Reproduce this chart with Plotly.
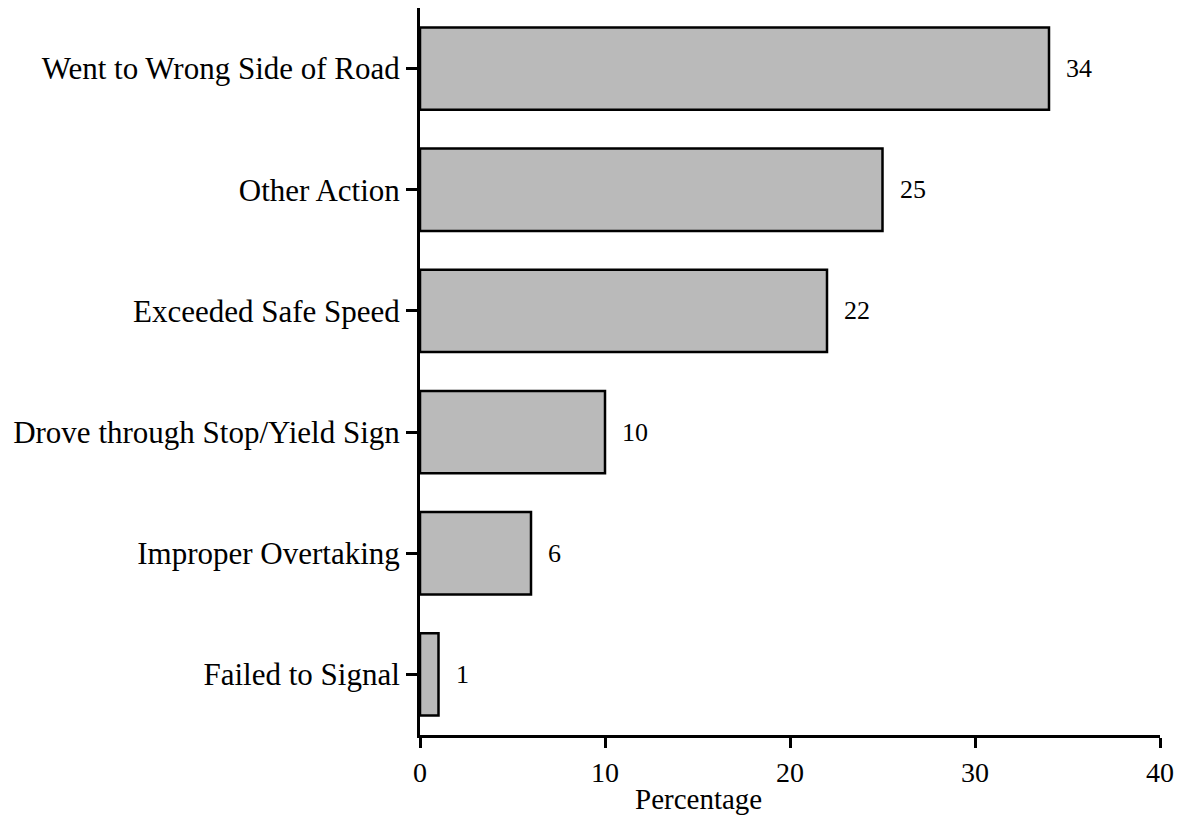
import plotly.graph_objects as go

categories = ["Went to Wrong Side of Road", "Other Action", "Exceeded Safe Speed",
              "Drove through Stop/Yield Sign", "Improper Overtaking", "Failed to Signal"]
values = [34, 25, 22, 10, 6, 1]
x_ticks = [0, 10, 20, 30, 40]
x_title = "Percentage"

FONT = "Liberation Serif, Times New Roman, serif"

fig = go.Figure()
fig.add_trace(go.Bar(
    x=values, y=categories, orientation="h",
    marker=dict(color="#bababa", line=dict(color="black", width=2.5)),
    width=0.68, hoverinfo="x+y",
))

for c, v in zip(categories, values):
    fig.add_annotation(x=v, y=c, text=str(v), showarrow=False, xanchor="left",
                       xshift=15, font=dict(family=FONT, size=26, color="black"))

fig.add_annotation(xref="paper", yref="paper", x=0.376, y=0, yshift=-64,
                   text=x_title, showarrow=False, xanchor="center", yanchor="middle",
                   font=dict(family=FONT, size=29, color="black"))

fig.update_layout(
    width=1178, height=813,
    margin=dict(l=412, r=26, t=0, b=86),
    paper_bgcolor="white", plot_bgcolor="white",
    showlegend=False,
    font=dict(family=FONT, size=31, color="black"),
    xaxis=dict(range=[0, 40], tickvals=x_ticks, showgrid=False, zeroline=False,
               showline=True, linecolor="black", linewidth=3,
               ticks="outside", ticklen=10, tickwidth=3, tickcolor="black",
               tickfont=dict(size=28)),
    yaxis=dict(categoryorder="array", categoryarray=categories[::-1],
               range=[-0.5, 5.5], showgrid=False, zeroline=False,
               showline=True, linecolor="black", linewidth=3,
               ticks="outside", ticklen=11, tickwidth=2.5, tickcolor="black",
               tickfont=dict(size=31)),
)

fig.write_html("out.html")
